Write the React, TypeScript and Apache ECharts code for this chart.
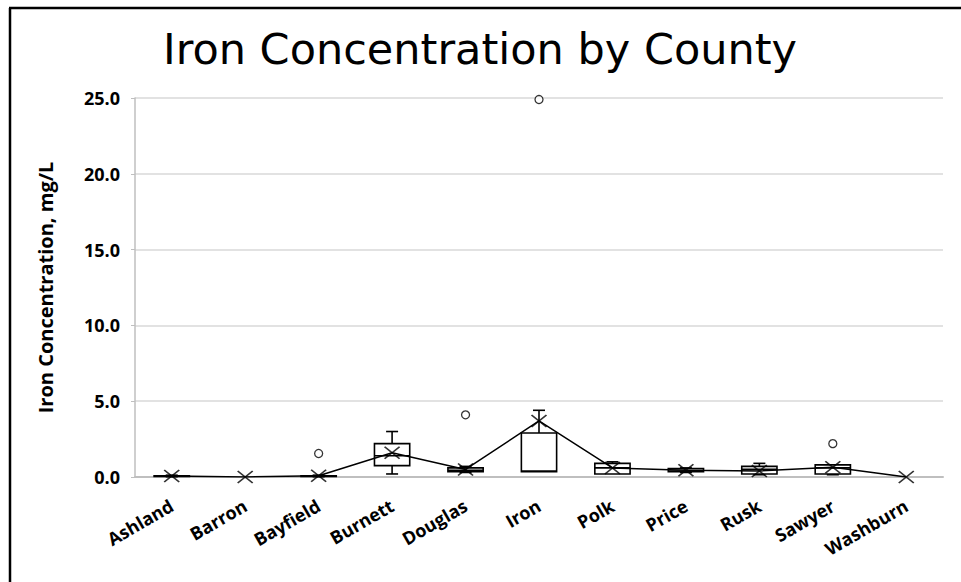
import React, { useEffect, useRef } from "react";
import * as echarts from "echarts";

const counties = ["Ashland", "Barron", "Bayfield", "Burnett", "Douglas", "Iron", "Polk", "Price", "Rusk", "Sawyer", "Washburn"];
const minValues = [0.02, 0, 0.02, 0.2, 0.3, 0.35, 0.2, 0.3, 0.15, 0.15, 0];
const q1Values = [0.03, 0, 0.04, 0.75, 0.35, 0.35, 0.2, 0.35, 0.2, 0.2, 0];
const medianValues = [0.05, 0, 0.05, 1.4, 0.45, 0.4, 0.6, 0.4, 0.5, 0.6, 0];
const q3Values = [0.08, 0, 0.08, 2.2, 0.6, 2.9, 0.9, 0.55, 0.7, 0.8, 0];
const maxValues = [0.12, 0, 0.12, 3.0, 0.7, 4.4, 1.0, 0.6, 0.9, 0.8, 0];
const meanValues = [0.06, 0.0, 0.08, 1.6, 0.5, 3.7, 0.6, 0.45, 0.4, 0.65, 0.0];
const outlierCounties = ["Bayfield", "Douglas", "Iron", "Sawyer"];
const outlierValues = [1.55, 4.1, 24.9, 2.2];
const yMin = 0;
const yMax = 25;
const yInterval = 5;

const titleText = "Iron Concentration by County";
const yAxisTitle = "Iron Concentration, mg/L";

export default function App() {
  const ref = useRef<HTMLDivElement>(null);
  useEffect(() => {
    if (!ref.current) return;
    const chart = echarts.init(ref.current, null, { renderer: "svg" });
    const boxData = counties.map((_, i) => [i, minValues[i], q1Values[i], medianValues[i], q3Values[i], maxValues[i]]);
    const lw = 1.6;
    const option: any = {
      animation: false,
      backgroundColor: "#fff",
      title: {
        text: titleText,
        left: 475,
        top: 22,
        textAlign: "center",
        textStyle: { fontFamily: "DejaVu Sans", fontWeight: "normal", fontSize: 43, color: "#000" },
      },
      graphic: [
        { type: "line", shape: { x1: 10, y1: 8, x2: 10, y2: 582 }, style: { stroke: "#000", lineWidth: 2.5 } },
        { type: "line", shape: { x1: 9, y1: 8, x2: 961, y2: 8 }, style: { stroke: "#000", lineWidth: 2.5 } },
      ],
      grid: { left: 135, right: 18, top: 98, bottom: 105, containLabel: false },
      xAxis: {
        type: "category",
        data: counties,
        boundaryGap: true,
        axisLine: { show: true, lineStyle: { color: "#bfbfbf", width: 2 } },
        axisTick: { show: false },
        axisLabel: {
          rotate: 30,
          margin: 27,
          interval: 0,
          fontFamily: "Open Sans",
          fontWeight: "bold",
          fontSize: 18,
          color: "#000",
        },
      },
      yAxis: {
        type: "value",
        min: yMin,
        max: yMax,
        interval: yInterval,
        name: yAxisTitle,
        nameLocation: "middle",
        nameGap: 80,
        nameRotate: 90,
        nameTextStyle: { fontFamily: "Open Sans", fontWeight: "bold", fontSize: 20, color: "#000" },
        axisLine: { show: true, lineStyle: { color: "#bfbfbf", width: 1.5 } },
        axisTick: { show: true, length: 4, lineStyle: { color: "#bfbfbf" } },
        splitLine: { show: true, lineStyle: { color: "#d9d9d9", width: 1.5 } },
        axisLabel: {
          formatter: (v: number) => v.toFixed(1),
          margin: 15,
          fontFamily: "Open Sans",
          fontWeight: "bold",
          fontSize: 18,
          color: "#000",
        },
      },
      series: [
        {
          type: "custom",
          data: boxData,
          encode: { x: 0, y: [1, 2, 3, 4, 5] },
          z: 2,
          renderItem: (params: any, api: any) => {
            const idx = api.value(0);
            const mn = api.value(1), q1 = api.value(2), md = api.value(3), q3 = api.value(4), mx = api.value(5);
            if (mx === mn) return { type: "group", children: [] };
            const bw = api.size([1, 0])[0] * 0.48;
            const capW = 12;
            const pMin = api.coord([idx, mn]);
            const pQ1 = api.coord([idx, q1]);
            const pMd = api.coord([idx, md]);
            const pQ3 = api.coord([idx, q3]);
            const pMax = api.coord([idx, mx]);
            const x = pMin[0];
            const st = { stroke: "#000", lineWidth: lw, fill: null };
            const children: any[] = [];
            if (mx > q3) {
              children.push({ type: "line", shape: { x1: x, y1: pQ3[1], x2: x, y2: pMax[1] }, style: st });
              children.push({ type: "line", shape: { x1: x - capW / 2, y1: pMax[1], x2: x + capW / 2, y2: pMax[1] }, style: st });
            }
            if (mn < q1) {
              children.push({ type: "line", shape: { x1: x, y1: pQ1[1], x2: x, y2: pMin[1] }, style: st });
              children.push({ type: "line", shape: { x1: x - capW / 2, y1: pMin[1], x2: x + capW / 2, y2: pMin[1] }, style: st });
            }
            children.push({
              type: "rect",
              shape: { x: x - bw / 2, y: pQ3[1], width: bw, height: pQ1[1] - pQ3[1] },
              style: { stroke: "#000", lineWidth: lw, fill: "#fff" },
            });
            children.push({ type: "line", shape: { x1: x - bw / 2, y1: pMd[1], x2: x + bw / 2, y2: pMd[1] }, style: st });
            return { type: "group", children };
          },
        },
        {
          type: "line",
          data: meanValues,
          symbol: "none",
          z: 3,
          lineStyle: { color: "#000", width: 1.5 },
        },
        {
          type: "scatter",
          data: meanValues,
          z: 4,
          symbol: "path://M0,0L10,8M10,0L0,8",
          symbolSize: [15, 12],
          itemStyle: { color: "none", borderColor: "#000", borderWidth: 1.6 },
        },
        {
          type: "scatter",
          data: outlierCounties.map((c, i) => [c, outlierValues[i]]),
          z: 4,
          symbol: "circle",
          symbolSize: 8,
          itemStyle: { color: "#fff", borderColor: "#000", borderWidth: 1.3 },
        },
      ],
    };
    chart.setOption(option);
    return () => chart.dispose();
  }, []);
  return (
    <div style={{ position: "fixed", left: 0, top: 0, width: 961, height: 582, background: "#fff" }}>
      <div ref={ref} style={{ width: 961, height: 582 }} />
    </div>
  );
}
